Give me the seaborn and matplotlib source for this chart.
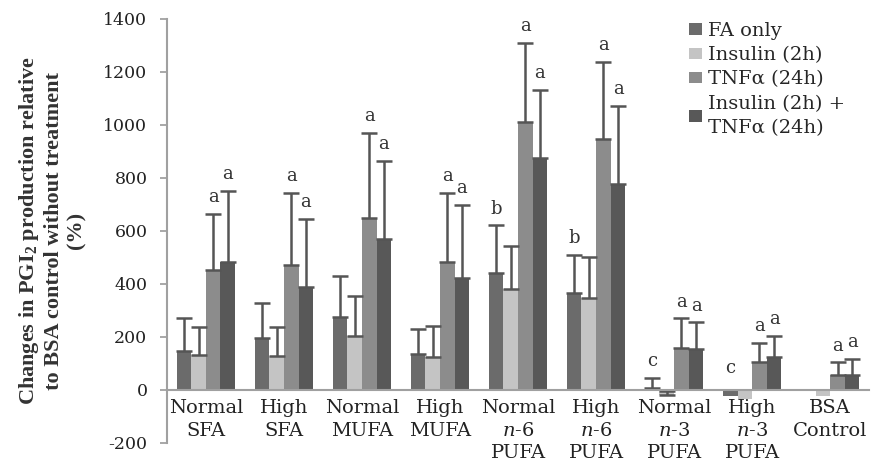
import numpy as np
import pandas as pd
import matplotlib
matplotlib.use("Agg")
import matplotlib.pyplot as plt
import seaborn as sns

categories = ["Normal\nSFA", "High\nSFA", "Normal\nMUFA", "High\nMUFA",
              "Normal\n$\\it{n}$-6\nPUFA", "High\n$\\it{n}$-6\nPUFA",
              "Normal\n$\\it{n}$-3\nPUFA", "High\n$\\it{n}$-3\nPUFA", "BSA\nControl"]
treatments = ["FA only", "Insulin (2h)", "TNF\u03b1 (24h)", "Insulin (2h) +\nTNF\u03b1 (24h)"]

fa_only   = [147, 194, 276, 134, 442, 364, 5, -25, 0]
insulin   = [131, 126, 203, 122, 382, 345, -20, -35, -25]
tnf       = [452, 471, 649, 482, 1011, 947, 157, 103, 55]
combo     = [482, 389, 570, 423, 875, 775, 153, 122, 57]

fa_err     = [122, 135, 153, 95, 178, 143, 39, 0, 0]
insulin_err = [104, 109, 151, 119, 160, 156, 17, 0, 0]
tnf_err    = [210, 270, 321, 259, 297, 290, 112, 73, 48]
combo_err  = [268, 254, 292, 273, 255, 295, 101, 81, 58]

letters_fa    = ["", "", "", "", "b", "b", "c", "c", ""]
letters_ins   = ["", "", "", "", "", "", "", "", ""]
letters_tnf   = ["a", "a", "a", "a", "a", "a", "a", "a", "a"]
letters_combo = ["a", "a", "a", "a", "a", "a", "a", "a", "a"]

colors = ["#6b6b6b", "#c4c4c4", "#8c8c8c", "#585858"]

values = [fa_only, insulin, tnf, combo]
errors = [fa_err, insulin_err, tnf_err, combo_err]
letters = [letters_fa, letters_ins, letters_tnf, letters_combo]

rows = []
for t, vals in zip(treatments, values):
    for c, v in zip(categories, vals):
        rows.append({"cat": c, "treat": t, "val": v})
df = pd.DataFrame(rows)

sns.set_style("white")
plt.rcParams["font.family"] = ["DejaVu Serif"]
plt.rcParams["axes.unicode_minus"] = False
plt.rcParams["mathtext.fontset"] = "custom"
plt.rcParams["mathtext.it"] = "DejaVu Serif:italic"
plt.rcParams["mathtext.rm"] = "DejaVu Serif"
plt.rcParams["mathtext.bf"] = "Liberation Serif:bold"

fig, ax = plt.subplots(figsize=(8.78, 4.71), dpi=100)
fig.subplots_adjust(left=0.19, right=0.99, top=0.96, bottom=0.06)

sns.barplot(data=df, x="cat", y="val", hue="treat", order=categories,
            hue_order=treatments, palette=colors, errorbar=None,
            width=0.75, gap=0, saturation=1, ax=ax, linewidth=0)

bar_containers = list(ax.containers)
for i, cont in enumerate(bar_containers):
    xs = [p.get_x() + p.get_width() / 2 for p in cont.patches]
    vals = values[i]
    errs = errors[i]
    for x, v, e, lab in zip(xs, vals, errs, letters[i]):
        if e > 0:
            ax.errorbar(x, v, yerr=[[0], [e]], fmt="none", ecolor="#555555",
                        elinewidth=1.8, capsize=6, capthick=1.8)
        if lab:
            top = v + e if v > 0 else max(v + e, 0) + 20
            ax.text(x, top + 30, lab, ha="center", va="bottom", fontsize=13,
                    color="#333333")

ax.set_ylim(-200, 1400)
ax.set_xlim(-0.5, len(categories) - 0.5)
ax.set_yticks(range(-200, 1401, 200))
ax.tick_params(axis="y", labelsize=12.5, colors="#999999", length=5, width=1.2,
               direction="out", left=True, labelcolor="#222222", pad=9)
ax.tick_params(axis="x", labelsize=14, length=0, pad=7, labelcolor="#222222")
for s in ["top", "right"]:
    ax.spines[s].set_visible(False)
ax.spines["bottom"].set_position(("data", 0))
ax.spines["bottom"].set_color("#a0a0a0")
ax.spines["bottom"].set_linewidth(1.5)
ax.spines["left"].set_color("#a0a0a0")
ax.spines["left"].set_linewidth(1.5)
for lab in ax.get_xticklabels():
    lab.set_va("top")
    lab.set_linespacing(1.3)

ax.set_xlabel("")
ax.set_ylabel("Changes in PGI$_\\mathbf{2}$ production relative\nto BSA control without treatment\n(%)",
              fontsize=16, fontweight="bold", color="#333333", labelpad=12,
              linespacing=1.2, family="Liberation Serif")

leg = ax.legend(loc="upper right", bbox_to_anchor=(0.982, 1.02), frameon=False,
                fontsize=14, handlelength=0.65, handleheight=0.55, handletextpad=0.3,
                labelspacing=0.32, borderaxespad=0.2)
for t in leg.get_texts():
    t.set_linespacing(1.45)

fig.savefig("out.png", dpi=100)
